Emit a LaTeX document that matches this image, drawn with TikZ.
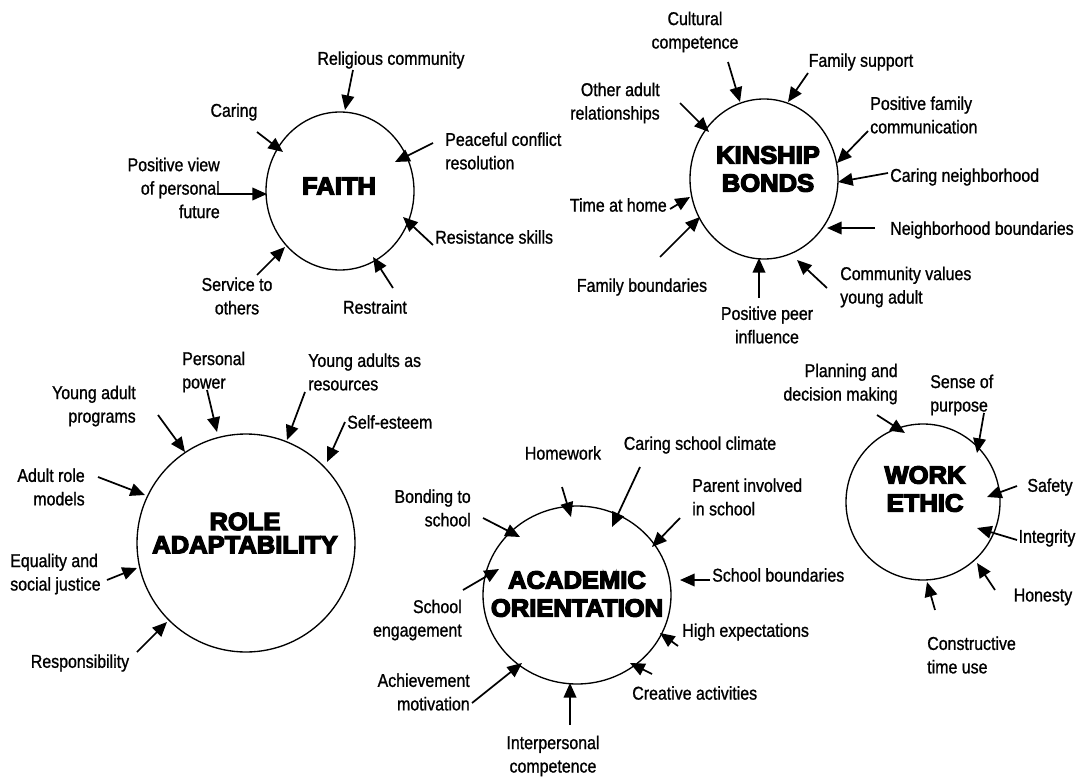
\documentclass[tikz,border=0pt]{standalone}
\usepackage{fontspec}
\setmainfont{Liberation Sans}
\newfontfamily\lblfamily{Liberation Sans}[FakeStretch=0.86, FakeBold=1]
\newfontfamily\hubfamily{Liberation Sans}[FakeStretch=1.03, BoldFeatures={FakeBold=5.5}]
\usetikzlibrary{shapes.geometric, arrows.meta}

% an influence arrow between two named points
\newcommand{\feedarrow}[3]{%
  \coordinate (#1-s) at (#2);
  \coordinate (#1-t) at (#3);
  \draw[feed] (#1-s) -- (#1-t);}

\tikzset{
  hub/.style={draw, ellipse, line width=1pt, inner sep=0pt},
  hubtext/.style={inner sep=0pt, align=center,
    font=\hubfamily\bfseries\fontsize{18.6pt}{21pt}\selectfont},
  lbl/.style={inner sep=0pt, align=center,
    font=\lblfamily\fontsize{13.9pt}{17.6pt}\selectfont},
  lblL/.style={lbl, align=left, anchor=west},
  lblR/.style={lbl, align=right, anchor=east},
  feed/.style={line width=1.3pt, -{Triangle[length=11pt,width=9.5pt]}},
}

\begin{document}
\begin{tikzpicture}[x=0.75pt, y=-0.75pt]
\useasboundingbox (0,0) rectangle (1081,781);

% ---------------- FAITH ----------------
\node[hub, minimum width=111pt, minimum height=118.5pt] (faith) at (340,191) {};
\node[hubtext] (faith-t) at (339,186) {FAITH};
\node[lbl] (f-rel) at (391,60) {Religious community};
\node[lbl] (f-car) at (234,112) {Caring};
\node[lblL] (f-pea) at (445,151) {Peaceful conflict\\resolution};
\node[lblR] (f-pos) at (220,188) {Positive view\\of personal\\future};
\node[lblL] (f-res) at (435,237) {Resistance skills};
\node[lbl] (f-rst) at (375,307) {Restraint};
\node[lbl] (f-ser) at (237,296) {Service to\\others};
\feedarrow{fa-rel}{353,70}{345,110}
\feedarrow{fa-car}{257,132}{283,152}
\feedarrow{fa-pea}{433,143}{395,162}
\feedarrow{fa-pos}{217,194}{267,194}
\feedarrow{fa-res}{433,245}{403,217}
\feedarrow{fa-rst}{393,288}{373,257}
\feedarrow{fa-ser}{257,275}{285,247}

% ---------------- KINSHIP BONDS ----------------
\node[hub, minimum width=111pt, minimum height=120pt] (kin) at (764,179) {};
\node[hubtext] (kin-t) at (768,169) {KINSHIP\\BONDS};
\node[lbl] (k-cul) at (695,32) {Cultural\\competence};
\node[lbl] (k-fsu) at (861,62) {Family support};
\node[lblR] (k-oth) at (660,103) {Other adult\\relationships};
\node[lblL] (k-pfc) at (870,115) {Positive family\\communication};
\node[lblL] (k-cnb) at (890,177) {Caring neighborhood};
\node[lblR] (k-tah) at (667,205) {Time at home};
\node[lblL] (k-nbb) at (890,230) {Neighborhood boundaries};
\node[lbl] (k-fbo) at (642,287) {Family boundaries};
\node[lblL] (k-com) at (840,287) {Community values\\young adult};
\node[lbl] (k-pee) at (767,325) {Positive peer\\influence};
\feedarrow{ka-cul}{728,62}{740,102}
\feedarrow{ka-fsu}{808,73}{788,102}
\feedarrow{ka-oth}{680,103}{709,132}
\feedarrow{ka-pfc}{868,131}{837,163}
\feedarrow{ka-cnb}{888,173}{838,182}
\feedarrow{ka-tah}{670,209}{690,197}
\feedarrow{ka-nbb}{875,228}{827,228}
\feedarrow{ka-fbo}{660,257}{700,217}
\feedarrow{ka-com}{827,288}{797,260}
\feedarrow{ka-pee}{759,298}{759,258}

% ---------------- ROLE ADAPTABILITY ----------------
\node[hub, minimum width=163.5pt, minimum height=163.5pt] (role) at (246,543) {};
\node[hubtext, font=\hubfamily\bfseries\fontsize{18.6pt}{17.4pt}\selectfont] (role-t) at (245,533) {ROLE\\ADAPTABILITY};
\node[lblL] (r-per) at (182,372) {Personal\\power};
\node[lblL] (r-yar) at (308,372) {Young adults as\\resources};
\node[lblR] (r-yap) at (136,406) {Young adult\\programs};
\node[lblL] (r-sel) at (347,422) {Self-esteem};
\node[lblR] (r-arm) at (85,487) {Adult role\\models};
\node[lblL] (r-equ) at (10,574) {Equality and\\social justice};
\node[lbl] (r-rsp) at (80,663) {Responsibility};
\feedarrow{ra-per}{207,390}{217,432}
\feedarrow{ra-yar}{305,392}{287,440}
\feedarrow{ra-yap}{158,415}{185,452}
\feedarrow{ra-sel}{345,422}{327,462}
\feedarrow{ra-arm}{98,477}{145,495}
\feedarrow{ra-equ}{107,580}{137,568}
\feedarrow{ra-rsp}{137,652}{167,622}

% ---------------- ACADEMIC ORIENTATION ----------------
\node[hub, minimum width=141pt, minimum height=133.5pt] (acad) at (577,595) {};
\node[hubtext] (acad-t) at (577,594) {ACADEMIC\\ORIENTATION};
\node[lbl] (a-hom) at (563,453) {Homework};
\node[lbl] (a-csc) at (700,445) {Caring school climate};
\node[lblR] (a-bon) at (471,508) {Bonding to\\school};
\node[lblL] (a-par) at (692,497) {Parent involved\\in school};
\node[lblL] (a-sbo) at (712,575) {School boundaries};
\node[lblR] (a-eng) at (462,620) {School\\engagement};
\node[lblL] (a-hig) at (682,632) {High expectations};
\node[lblR] (a-ach) at (470,692) {Achievement\\motivation};
\node[lblL] (a-cre) at (632,693) {Creative activities};
\node[lbl] (a-int) at (553,756) {Interpersonal\\competence};
\feedarrow{aa-hom}{562,487}{571,517}
\feedarrow{aa-csc}{640,467}{612,527}
\feedarrow{aa-bon}{483,518}{520,537}
\feedarrow{aa-par}{680,518}{652,547}
\feedarrow{aa-sbo}{710,580}{680,580}
\feedarrow{aa-eng}{463,590}{499,569}
\feedarrow{aa-hig}{678,646}{660,633}
\feedarrow{aa-ach}{472,703}{522,663}
\feedarrow{aa-cre}{652,674}{630,663}
\feedarrow{aa-int}{570,725}{570,683}

% ---------------- WORK ETHIC ----------------
\node[hub, minimum width=115.5pt, minimum height=117pt] (work) at (923,502) {};
\node[hubtext] (work-t) at (925,489) {WORK\\ETHIC};
\node[lblR] (w-pla) at (898,384) {Planning and\\decision making};
\node[lblL] (w-sen) at (930,395) {Sense of\\purpose};
\node[lbl] (w-saf) at (1050,487) {Safety};
\node[lbl] (w-int) at (1047,538) {Integrity};
\node[lbl] (w-hon) at (1043,597) {Honesty};
\node[lblL] (w-con) at (927,655) {Constructive\\time use};
\feedarrow{wa-pla}{877,415}{905,433}
\feedarrow{wa-sen}{984,413}{977,453}
\feedarrow{wa-saf}{1017,486}{987,497}
\feedarrow{wa-int}{1017,540}{977,528}
\feedarrow{wa-hon}{995,590}{977,563}
\feedarrow{wa-con}{935,610}{927,582}
\end{tikzpicture}
\end{document}
